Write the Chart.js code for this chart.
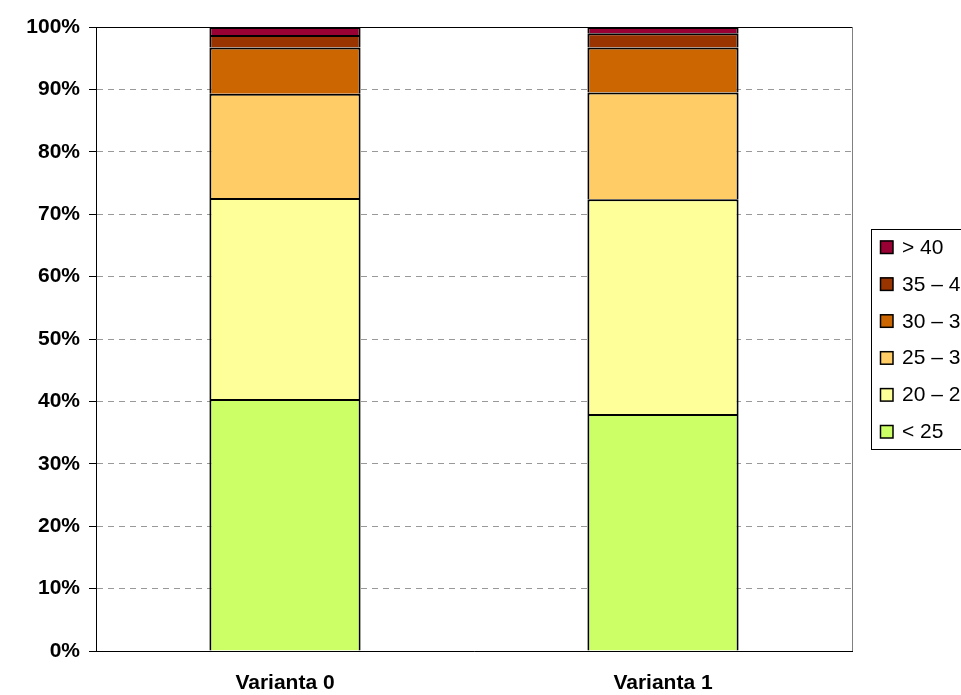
<!DOCTYPE html>
<html>
<head>
<meta charset="utf-8">
<script src="https://cdn.jsdelivr.net/npm/chart.js@4/dist/chart.umd.min.js"></script>
<style>
  html, body { margin: 0; padding: 0; background: #fff; overflow: hidden; }
  #wrap { width: 961px; height: 695px; }
</style>
</head>
<body>
<div id="wrap"><canvas id="chart" width="961" height="695"></canvas></div>
<script>
// kategorie a podíly skupin (%)
const varianty = ['Varianta 0', 'Varianta 1'];
const skupiny = ['< 25', '20 – 25', '25 – 30', '30 – 35', '35 – 40', '> 40'];
const podil0 = [40.4, 32.2, 16.7, 7.4, 2.0, 1.3];
const podil1 = [38.0, 34.4, 17.1, 7.2, 2.3, 1.0];
const barvy = ['#CCFF66', '#FFFF99', '#FFCC66', '#CC6600', '#993300', '#990033'];
const osaY = [0, 10, 20, 30, 40, 50, 60, 70, 80, 90, 100];

const datasets = skupiny.map((s, i) => ({
  label: s,
  data: [podil0[i], podil1[i]],
  backgroundColor: barvy[i],
  borderColor: '#000',
  borderWidth: 2,
  borderSkipped: 'start',
  categoryPercentage: 1,
  barPercentage: 0.4
}));

// legenda vpravo, pořadí od nejvyšší skupiny
const legendaPlugin = {
  id: 'legenda',
  afterDraw(chart) {
    const ctx = chart.ctx;
    const area = chart.chartArea;
    ctx.save();
    // horní a pravý okraj plochy grafu
    ctx.lineWidth = 1;
    ctx.strokeStyle = '#000';
    ctx.beginPath();
    ctx.moveTo(area.left, area.top + 0.5);
    ctx.lineTo(area.right, area.top + 0.5);
    ctx.stroke();
    ctx.strokeStyle = '#808080';
    ctx.beginPath();
    ctx.moveTo(area.right + 0.5, area.top);
    ctx.lineTo(area.right + 0.5, area.bottom);
    ctx.stroke();

    const x0 = 871.5, y0 = 229.5;
    ctx.strokeStyle = '#000';
    ctx.strokeRect(x0, y0, 120, 220);
    ctx.font = '21px Arial, "Liberation Sans", sans-serif';
    ctx.textBaseline = 'middle';
    const ds = chart.data.datasets.slice().reverse();
    ds.forEach((d, i) => {
      const cy = 247 + i * 36.9;
      ctx.fillStyle = d.backgroundColor;
      ctx.fillRect(880, cy - 6.5, 13, 13);
      ctx.lineWidth = 1.5;
      ctx.strokeStyle = '#000';
      ctx.strokeRect(880.5, cy - 6, 12.5, 12.5);
      ctx.fillStyle = '#000';
      ctx.fillText(d.label, 902, cy + 1);
    });
    ctx.restore();
  }
};

new Chart(document.getElementById('chart'), {
  type: 'bar',
  data: { labels: varianty, datasets: datasets },
  options: {
    responsive: false,
    animation: false,
    layout: { padding: { top: 27, right: 109, left: 0, bottom: 0 } },
    plugins: { legend: { display: false }, tooltip: { enabled: false } },
    scales: {
      x: {
        stacked: true,
        grid: { display: false },
        border: { display: true, color: '#000', width: 1 },
        ticks: {
          color: '#000',
          padding: 12,
          font: { family: 'Arial, "Liberation Sans", sans-serif', size: 21, weight: 'bold' }
        },
        afterFit(scale) { scale.height = 44; }
      },
      y: {
        stacked: true,
        min: 0,
        max: 100,
        afterBuildTicks(scale) { scale.ticks = osaY.map(v => ({ value: v })); },
        grid: {
          color: '#999',
          lineWidth: 1,
          tickLength: 7,
          tickColor: '#000',
          tickBorderDash: []
        },
        border: { display: true, color: '#000', width: 1, dash: [6, 5] },
        ticks: {
          color: '#000',
          padding: 9,
          callback: v => v + '%',
          font: { family: 'Arial, "Liberation Sans", sans-serif', size: 21, weight: 'bold' }
        },
        afterFit(scale) { scale.width = 96; }
      }
    }
  },
  plugins: [legendaPlugin]
});
</script>
</body>
</html>
